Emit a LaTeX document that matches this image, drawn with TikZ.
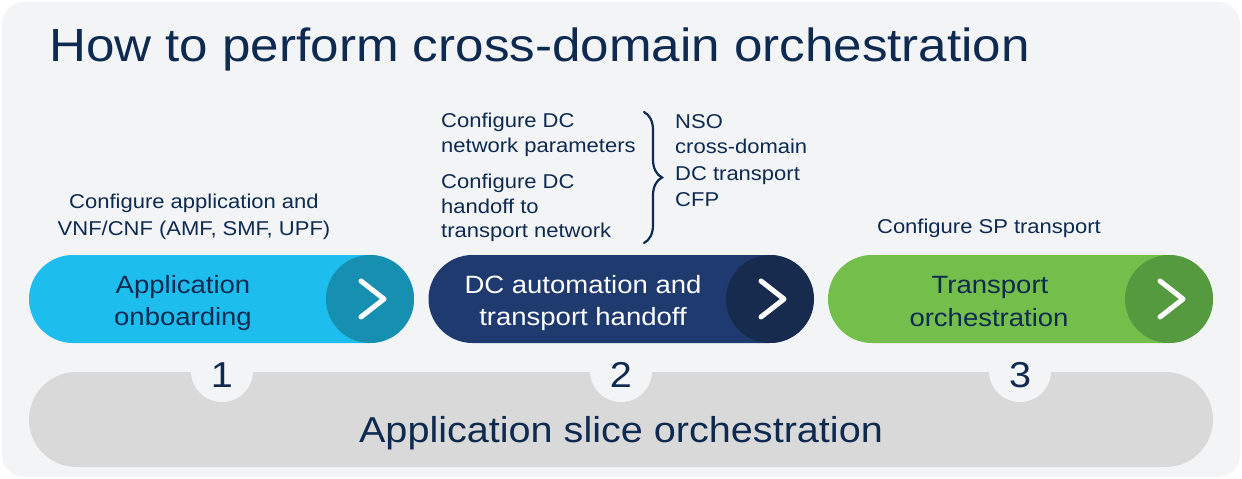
\documentclass[tikz,border=0pt]{standalone}
\usepackage{fontspec}
\setmainfont{Liberation Sans}[FakeStretch=1.1]
\usetikzlibrary{decorations.pathreplacing}
\definecolor{bgc}{HTML}{F3F4F6}
\definecolor{navy}{HTML}{0E2A50}
\definecolor{barc}{HTML}{D9D9D9}
\definecolor{blueA}{HTML}{1DBDEE}
\definecolor{blueB}{HTML}{168FB1}
\definecolor{navyA}{HTML}{1F3A6E}
\definecolor{navyB}{HTML}{172B4E}
\definecolor{greenA}{HTML}{74BF4B}
\definecolor{greenB}{HTML}{569A40}
\tikzset{
  pill/.style={draw=none, minimum width=385pt, minimum height=88pt, rounded corners=44pt, inner sep=0},
  endcircle/.style={circle, draw=none, minimum size=88pt, inner sep=0},
  chev/.style={draw=white, line width=5pt, line cap=round, line join=round},
  notch/.style={circle, fill=bgc, minimum size=62pt, inner sep=0},
  small/.style={font=\fontsize{20}{25}\selectfont, text=navy, inner sep=0},
  pilltxt/.style={font=\fontsize{25}{30}\selectfont, inner sep=0, anchor=base},
  digit/.style={font=\fontsize{36}{40}\selectfont, text=navy, inner sep=0, anchor=base},
}
\begin{document}
\begin{tikzpicture}[x=1pt,y=-1pt]
\useasboundingbox (0,0) rectangle (1242,479);
\fill[white] (0,0) rectangle (1242,479);
\fill[bgc, rounded corners=22pt] (2,2) rectangle (1240,477);

% title
\node[anchor=base west, font=\fontsize{46.5}{50}\selectfont, text=navy, inner sep=0] (title) at (49,61) {How to perform cross-domain orchestration};

% bottom bar with notches
\fill[barc, rounded corners=47.5pt] (29,372) rectangle (1213,467);
\node[notch] (n1) at (222,371) {};
\node[notch] (n2) at (621,371) {};
\node[notch] (n3) at (1020,371) {};
\node[digit] (d1) at (222,387) {1};
\node[digit] (d2) at (621,387) {2};
\node[digit] (d3) at (1020,387) {3};
\node[font=\fontsize{36}{40}\selectfont, text=navy, inner sep=0, anchor=base] (slice) at (621,442) {Application slice orchestration};

% pills
\node[pill, fill=blueA] (p1) at (221.5,299) {};
\node[endcircle, fill=blueB] (c1) at (370,299) {};
\draw[chev] (c1.center) ++(-9,-18) -- ++(23,18) -- ++(-23,18);
\node[pilltxt, text=navy] (t1a) at (183,293) {Application};
\node[pilltxt, text=navy] (t1b) at (183,325) {onboarding};

\node[pill, fill=navyA] (p2) at (621,299) {};
\node[endcircle, fill=navyB] (c2) at (770,299) {};
\draw[chev] (c2.center) ++(-9,-18) -- ++(23,18) -- ++(-23,18);
\node[pilltxt, text=white] (t2a) at (583,293) {DC automation and};
\node[pilltxt, text=white] (t2b) at (583,325) {transport handoff};

\node[pill, fill=greenA] (p3) at (1020.5,299) {};
\node[endcircle, fill=greenB] (c3) at (1169,299) {};
\draw[chev] (c3.center) ++(-9,-18) -- ++(23,18) -- ++(-23,18);
\node[pilltxt, text=navy] (t3a) at (990,293) {Transport};
\node[pilltxt, text=navy] (t3b) at (989,326) {orchestration};

% labels above pills
\node[small, anchor=base] (l1a) at (194,208) {Configure application and};
\node[small, anchor=base] (l1b) at (194,235) {VNF/CNF (AMF, SMF, UPF)};
\node[small, anchor=base] (l3) at (989,233) {Configure SP transport};

\node[small, anchor=base west] (l2a) at (441,127) {Configure DC};
\node[small, anchor=base west] (l2b) at (441,152) {network parameters};
\node[small, anchor=base west] (l2c) at (441,188) {Configure DC};
\node[small, anchor=base west] (l2d) at (441,213) {handoff to};
\node[small, anchor=base west] (l2e) at (441,237) {transport network};

\coordinate (bt) at (644,112);
\coordinate (bb) at (644,243);
\draw[navy, line width=2.2pt, line cap=round, decorate, decoration={brace, amplitude=18pt}] (bt) -- (bb);

\node[small, anchor=base west] (r1) at (675,128) {NSO};
\node[small, anchor=base west] (r2) at (675,153) {cross-domain};
\node[small, anchor=base west] (r3) at (675,180) {DC transport};
\node[small, anchor=base west] (r4) at (675,206) {CFP};
\end{tikzpicture}
\end{document}
